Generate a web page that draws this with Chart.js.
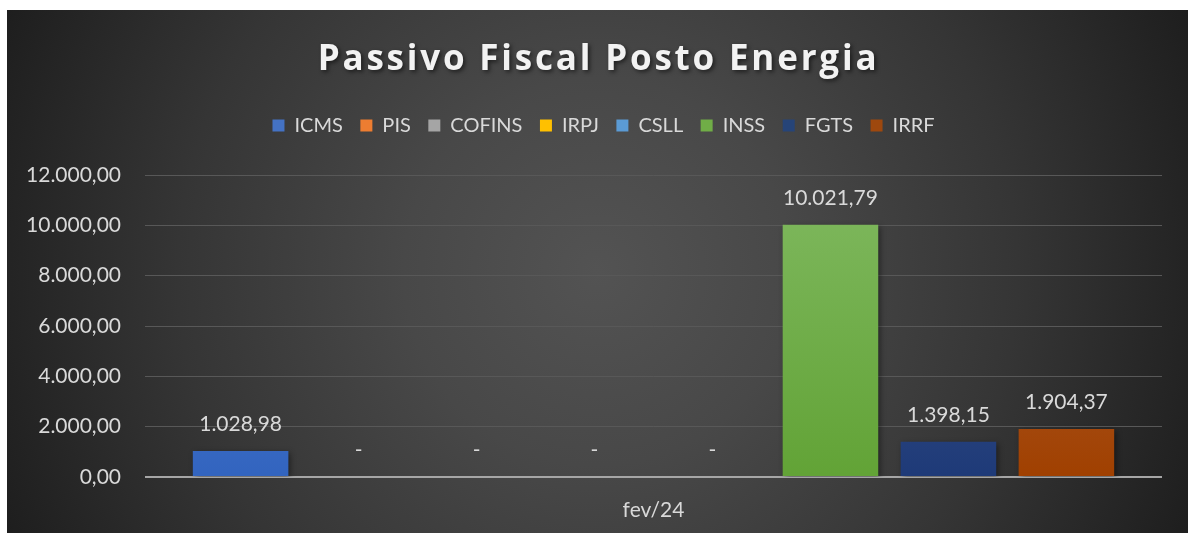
<!DOCTYPE html>
<html>
<head>
<meta charset="utf-8">
<script src="https://cdn.jsdelivr.net/npm/chart.js@4"></script>
<style>
  html, body { margin: 0; padding: 0; background: #fff; }
  #box {
    position: absolute; left: 7px; top: 10px; width: 1181px; height: 523px;
    background: radial-gradient(circle farthest-corner at 50% 50%, #535353 0%, #484848 30%, #353535 65%, #1e1e1e 100%);
  }
</style>
</head>
<body>
<div id="box"><canvas id="passivo"></canvas></div>
<script>
// dados do grafico
var categorias = ['fev/24'];
var tributos = ['ICMS', 'PIS', 'COFINS', 'IRPJ', 'CSLL', 'INSS', 'FGTS', 'IRRF'];
var valores = [1028.98, 0, 0, 0, 0, 10021.79, 1398.15, 1904.37];
var yTicks = [0, 2000, 4000, 6000, 8000, 10000, 12000];

// cores (topo, base) de cada serie
var coresTopo = ['#5d88d6', '#f08c4c', '#b3b3b3', '#ffc933', '#6ea8dc', '#80b960', '#4a5f8f', '#b26a47'];
var coresBase = ['#3264bf', '#e56f1f', '#999999', '#f5b400', '#4b8ed0', '#62a336', '#1e3a78', '#a04000'];
var coresLegenda = ['#4472c4', '#ed7d31', '#a5a5a5', '#ffc000', '#5b9bd5', '#70ad47', '#264478', '#9e480e'];

var fmt = function(v) {
	if (v === 0) return '-';
	return v.toLocaleString('pt-BR', {minimumFractionDigits: 2, maximumFractionDigits: 2});
};

var datasets = tributos.map(function(nome, i) {
	return {
		label: nome,
		data: [valores[i]],
		backgroundColor: function(c) {
			var area = c.chart.chartArea;
			if (!area) return coresLegenda[i];
			var el = c.element;
			var top = el && el.y !== undefined ? el.y : area.top;
			var bottom = el && el.base !== undefined ? el.base : area.bottom;
			if (!(bottom > top)) { top = area.top; bottom = area.bottom; }
			var g = c.chart.ctx.createLinearGradient(0, top, 0, bottom);
			g.addColorStop(0, coresTopo[i]);
			g.addColorStop(1, coresBase[i]);
			return g;
		},
		borderWidth: 0,
		barPercentage: 0.81,
		categoryPercentage: 0.928
	};
});

// titulo com espacamento e sombra, e altura/posicao da legenda
var ajustes = {
	id: 'ajustes',
	afterInit: function(chart) {
		var titulo = chart.titleBlock;
		var drawTitulo = titulo.draw;
		titulo.draw = function() {
			var c = this.ctx;
			c.save();
			c.translate(14, 4);
			c.letterSpacing = '2.8px';
			c.shadowColor = 'rgba(0,0,0,0.55)';
			c.shadowBlur = 4;
			c.shadowOffsetX = 2;
			c.shadowOffsetY = 2;
			drawTitulo.apply(this, arguments);
			c.restore();
		};
		var legenda = chart.legend;
		var fitLegenda = legenda.fit;
		legenda.fit = function() {
			fitLegenda.apply(this, arguments);
			this.height = 76;
		};
		var drawLegenda = legenda.draw;
		legenda.draw = function() {
			var c = this.ctx;
			c.save();
			c.translate(19, -1);
			drawLegenda.apply(this, arguments);
			c.restore();
		};
	}
};

// sombra nas barras
var sombra = {
	id: 'sombra',
	beforeDatasetsDraw: function(chart) {
		var ctx = chart.ctx;
		ctx.save();
		ctx.shadowColor = 'rgba(0,0,0,0.45)';
		ctx.shadowBlur = 6;
		ctx.shadowOffsetX = 2;
		ctx.shadowOffsetY = 2;
	},
	afterDatasetsDraw: function(chart) {
		chart.ctx.restore();
	}
};

// rotulos de valores acima das barras
var rotulos = {
	id: 'rotulos',
	afterDraw: function(chart) {
		var ctx = chart.ctx;
		ctx.save();
		ctx.font = '21px Lato';
		ctx.fillStyle = '#d9d9d9';
		ctx.textAlign = 'center';
		ctx.textBaseline = 'middle';
		chart.data.datasets.forEach(function(ds, i) {
			var bar = chart.getDatasetMeta(i).data[0];
			ctx.fillText(fmt(ds.data[0]), bar.x, bar.y - 27);
		});
		ctx.restore();
	}
};

var ctx = document.getElementById('passivo');
var grafico = new Chart(ctx, {
	type: 'bar',
	data: { labels: categorias, datasets: datasets },
	plugins: [ajustes, sombra, rotulos],
	options: {
		responsive: true,
		maintainAspectRatio: false,
		animation: false,
		layout: { padding: { left: 0, right: 26, top: 0, bottom: 0 } },
		plugins: {
			title: {
				display: true,
				text: 'Passivo Fiscal Posto Energia',
				color: '#f2f2f2',
				font: { family: 'Open Sans', size: 35, weight: 'bold' },
				padding: { top: 25, bottom: 22 }
			},
			legend: {
				labels: {
					color: '#d9d9d9',
					font: { family: 'Lato', size: 20 },
					boxWidth: 12,
					boxHeight: 12,
					padding: 17.5,
					generateLabels: function(chart) {
						return tributos.map(function(n, i) {
							return { text: n, fillStyle: coresLegenda[i], strokeStyle: coresLegenda[i], lineWidth: 0, fontColor: '#d9d9d9', datasetIndex: i };
						});
					}
				}
			},
			tooltip: { enabled: false }
		},
		scales: {
			x: {
				grid: { display: false },
				border: { display: false },
				afterFit: function(s) { s.height = 56; },
				ticks: { color: '#d9d9d9', font: { family: 'Lato', size: 21 }, padding: 13 }
			},
			y: {
				min: 0,
				max: 12000,
				afterBuildTicks: function(s) {
					s.ticks = yTicks.map(function(v) { return { value: v }; });
				},
				afterFit: function(s) { s.width = 138; },
				border: { display: false },
				grid: {
					drawTicks: false,
					color: function(c) { return c.tick && c.tick.value === 0 ? '#a6a6a6' : '#585858'; },
					lineWidth: function(c) { return c.tick && c.tick.value === 0 ? 2 : 1; }
				},
				ticks: {
					color: '#d9d9d9',
					font: { family: 'Lato', size: 21 },
					padding: 24,
					callback: function(v) {
						return v.toLocaleString('pt-BR', {minimumFractionDigits: 2, maximumFractionDigits: 2});
					}
				}
			}
		}
	}
});
</script>
</body>
</html>
